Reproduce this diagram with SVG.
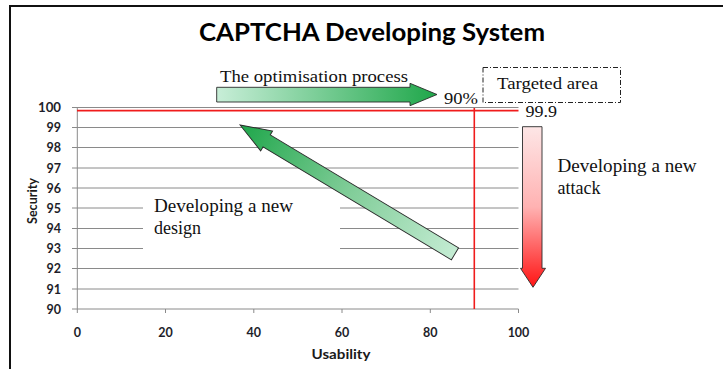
<svg xmlns="http://www.w3.org/2000/svg" width="723" height="369" viewBox="0 0 723 369">
<style>
.grid{stroke:#8a8a8a;stroke-width:1;fill:none}
.red{stroke:#f01c1c;stroke-width:1.6;fill:none}
.tick{font-family:Lato,"Liberation Sans",sans-serif;font-weight:bold;font-size:12.5px;fill:#1e1e2a}
.axl{font-family:Lato,"Liberation Sans",sans-serif;font-weight:bold;font-size:13px;fill:#1a1a1a}
.ser{font-family:"Liberation Serif","DejaVu Serif",serif;fill:#111}
.arrow{stroke:#2a2a2a;stroke-width:0.9}
</style>
<defs>
<linearGradient id="gH" x1="0" y1="0" x2="1" y2="0">
<stop offset="0" stop-color="#c8eed8"/>
<stop offset="1" stop-color="#1fa74a"/>
</linearGradient>
<linearGradient id="gD" x1="0" y1="0" x2="1" y2="0">
<stop offset="0" stop-color="#c4ecd3"/>
<stop offset="0.5" stop-color="#7fcc97"/>
<stop offset="1" stop-color="#1ea64a"/>
</linearGradient>
<linearGradient id="gR" x1="0" y1="0" x2="0" y2="1">
<stop offset="0" stop-color="#fde6e6"/>
<stop offset="0.5" stop-color="#ffb2b2"/>
<stop offset="1" stop-color="#ff1414"/>
</linearGradient>
</defs>
<rect width="723" height="369" fill="#fff"/>
<path d="M10 369V6H723" fill="none" stroke="#111" stroke-width="2"/>
<g id="title">
<text x="372" y="41" text-anchor="middle" font-family="Lato,'Liberation Sans',sans-serif" font-weight="bold" font-size="24" fill="#000" textLength="346" lengthAdjust="spacingAndGlyphs">CAPTCHA Developing System</text>
</g>
<g id="chart">
<g class="grid">
<path d="M72 107.5H518.5M72 127.5H518.5M72 147.5H518.5M72 168H518.5M72 188H518.5M72 208H518.5M72 228.5H518.5M72 248.5H518.5M72 268.5H518.5M72 289H518.5M72 309H518.5"/>
<path d="M77.3 107.5V309"/>
<path d="M77.3 309V313M165.5 309V313M253.8 309V313M342 309V313M430.3 309V313M518.5 309V313"/>
</g>
<g class="tick" text-anchor="end">
<text x="61" y="112" textLength="23" lengthAdjust="spacingAndGlyphs">100</text>
<text x="61" y="132">99</text>
<text x="61" y="152">98</text>
<text x="61" y="172.5">97</text>
<text x="61" y="192.5">96</text>
<text x="61" y="212.5">95</text>
<text x="61" y="233">94</text>
<text x="61" y="253">93</text>
<text x="61" y="273">92</text>
<text x="61" y="293.5">91</text>
<text x="61" y="313.5">90</text>
</g>
<g class="tick" text-anchor="middle">
<text x="77.3" y="337">0</text>
<text x="165.5" y="337">20</text>
<text x="253.8" y="337">40</text>
<text x="342" y="337">60</text>
<text x="430.3" y="337">80</text>
<text x="518.5" y="337">100</text>
</g>
<text class="axl" x="341" y="358.5" text-anchor="middle" textLength="59" lengthAdjust="spacingAndGlyphs">Usability</text>
<text class="axl" x="0" y="0" text-anchor="middle" transform="translate(36.5 201) rotate(-90)" textLength="46" lengthAdjust="spacingAndGlyphs">Security</text>
<path class="red" d="M77 110.6H518.5M474.3 108V309"/>
</g>
<g id="design-label">
<rect x="143" y="195" width="197" height="60" fill="#fff"/>
<text class="ser" x="154" y="212" font-size="18" textLength="139" lengthAdjust="spacingAndGlyphs">Developing a new</text>
<text class="ser" x="154" y="233.5" font-size="18">design</text>
</g>
<g id="attack-label">
<text class="ser" x="557.5" y="172" font-size="18" textLength="139" lengthAdjust="spacingAndGlyphs">Developing a new</text>
<text class="ser" x="557.5" y="193.5" font-size="18">attack</text>
</g>
<g id="targeted-area">
<rect x="483" y="67.5" width="137.5" height="35" fill="#fff" stroke="#222" stroke-width="1" stroke-dasharray="5,2,1,2"/>
<text class="ser" x="497" y="88.5" font-size="17" textLength="101" lengthAdjust="spacingAndGlyphs">Targeted area</text>
</g>
<g id="optimisation-label">
<text class="ser" x="220" y="81.5" font-size="17" textLength="188" lengthAdjust="spacingAndGlyphs">The optimisation process</text>
</g>
<g id="value-labels">
<text class="ser" x="444" y="103.5" font-size="16" textLength="34" lengthAdjust="spacingAndGlyphs">90%</text>
<text class="ser" x="525.5" y="117" font-size="16" textLength="31.5" lengthAdjust="spacingAndGlyphs">99.9</text>
</g>
<g id="connectors">
<path id="optimisation-arrow" class="arrow" fill="url(#gH)" d="M216.7 87.3H410V83.3L437 94.5L410 105.7V102H216.7Z"/>
<path id="design-arrow" class="arrow" fill="url(#gD)" transform="translate(455 253.8) rotate(-149.07)" d="M0 -7H219.6V-11.6L250.6 0L219.6 11.6V7H0Z"/>
<path id="attack-arrow" class="arrow" fill="url(#gR)" d="M522.5 126.7H542V268.3H545.5L533 287.3L520.5 268.3H522.5Z"/>
</g>
</svg>
